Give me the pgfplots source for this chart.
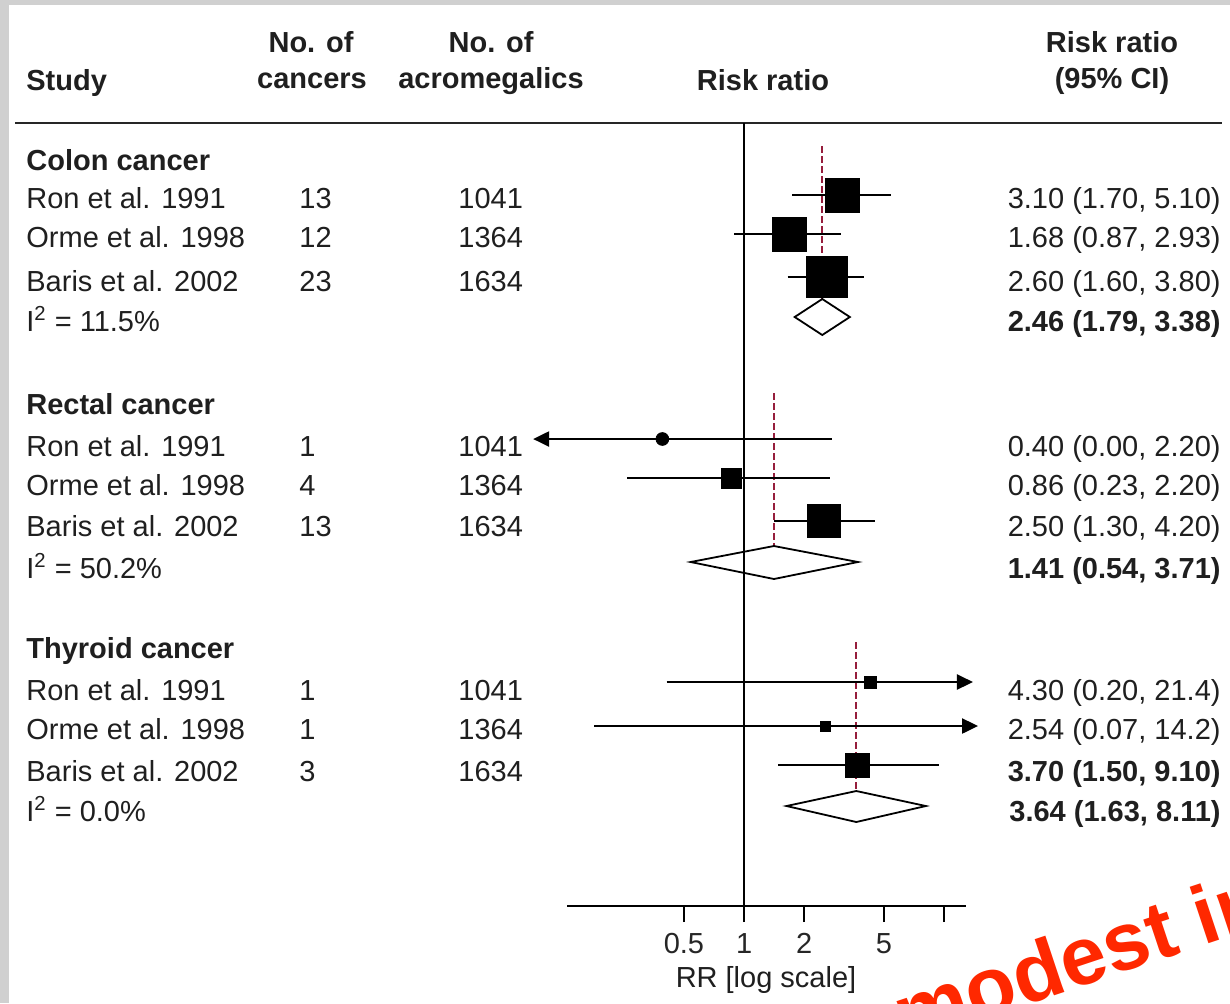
\documentclass[border=0pt]{standalone}
\usepackage{fontspec}
\setmainfont{Liberation Sans}
\usepackage{pgfplots}
\pgfplotsset{compat=1.18}
\usetikzlibrary{arrows.meta}
\definecolor{poolred}{RGB}{150,30,60}
\definecolor{wmred}{RGB}{255,40,0}
\definecolor{bordergray}{RGB}{208,208,208}
\newcommand\fs{\fontsize{14.5pt}{17pt}\selectfont}
\begin{document}
\begin{tikzpicture}
\begin{scope}[x=0.5pt,y=-0.5pt]
\useasboundingbox (0,0) rectangle (1230,1003);
\fill[white] (0,0) rectangle (1230,1003);
\fill[bordergray] (0,0) rectangle (1230,5);
\fill[bordergray] (0,0) rectangle (9,1003);
\draw[line width=1.3pt, black!85] (15,123) -- (1222,123);
\end{scope}
\begin{axis}[
  at={(283.5pt,-453pt)}, anchor=south west,
  scale only axis, width=199.5pt, height=391.5pt,
  xmode=log, log basis x=10, xmin=0.130, xmax=12.88, ymin=-906, ymax=-123,
  axis x line=bottom, axis y line=none,
  x axis line style={-, line width=1pt},
  xtick={0.5,1,2,5,10}, xticklabels={0.5,1,2,5,{}},
  xminorticks=false,
  xtick align=outside, major tick length=8pt,
  tick style={line width=0.9pt, black},
  xticklabel style={font=\fs, text=black!85, yshift=-2pt},
  /pgf/number format/assume math mode=true,
  clip=false,
]
% reference line at RR = 1
\draw[line width=1pt] (axis cs:1,-123) -- (axis cs:1,-906);
% pooled estimate dashed lines
\addplot[poolred, dash pattern=on 3.5pt off 1.5pt, line width=0.8pt] coordinates {(2.46,-146) (2.46,-299)};
\addplot[poolred, dash pattern=on 3.5pt off 1.5pt, line width=0.8pt] coordinates {(1.41,-393) (1.41,-546)};
\addplot[poolred, dash pattern=on 3.5pt off 1.5pt, line width=0.8pt] coordinates {(3.64,-642) (3.64,-791)};
% Colon cancer
\addplot[black, line width=1pt] coordinates {(1.74,-195) (5.40,-195)};
\addplot[only marks, mark=square*, mark size=8.5pt, black] coordinates {(3.10,-195)};
\addplot[black, line width=1pt] coordinates {(0.89,-234) (3.05,-234)};
\addplot[only marks, mark=square*, mark size=8.5pt, black] coordinates {(1.68,-234)};
\addplot[black, line width=1pt] coordinates {(1.65,-277) (4.00,-277)};
\addplot[only marks, mark=square*, mark size=10.25pt, black] coordinates {(2.60,-277)};
\addplot[black, line width=0.9pt, line join=miter] coordinates {(1.79,-317) (2.46,-299) (3.38,-317) (2.46,-335)} -- cycle;
% Rectal cancer
\addplot[black, line width=1.1pt, -{Triangle[length=8pt,width=7.5pt]}] coordinates {(2.75,-439) (0.088,-439)};
\addplot[only marks, mark=*, mark size=3.2pt, black] coordinates {(0.39,-439)};
\addplot[black, line width=0.8pt] coordinates {(0.26,-478) (2.68,-478)};
\addplot[only marks, mark=square*, mark size=5pt, black] coordinates {(0.86,-478)};
\addplot[black, line width=1pt] coordinates {(1.41,-521) (4.50,-521)};
\addplot[only marks, mark=square*, mark size=8.25pt, black] coordinates {(2.50,-521)};
\addplot[black, line width=0.9pt, line join=miter] coordinates {(0.54,-562) (1.41,-546) (3.71,-562) (1.41,-579)} -- cycle;
% Thyroid cancer
\addplot[black, line width=1.1pt, -{Triangle[length=8pt,width=7.5pt]}] coordinates {(0.41,-682) (13.96,-682)};
\addplot[only marks, mark=square*, mark size=3pt, black] coordinates {(4.30,-682)};
\addplot[black, line width=1.1pt, -{Triangle[length=8pt,width=7.5pt]}] coordinates {(0.178,-726) (14.8,-726)};
\addplot[only marks, mark=square*, mark size=2.5pt, black] coordinates {(2.54,-726)};
\addplot[black, line width=1pt] coordinates {(1.48,-765) (9.40,-765)};
\addplot[only marks, mark=square*, mark size=6pt, black] coordinates {(3.70,-765)};
\addplot[black, line width=0.9pt, line join=miter] coordinates {(1.63,-806) (3.64,-791) (8.11,-806) (3.64,-822)} -- cycle;
\end{axis}
\begin{scope}[x=0.5pt,y=-0.5pt, every node/.style={inner sep=0pt, font=\fs, text=black!88}]
% headers
\node[anchor=base west] at (26,90) {\bfseries Study};
\node[anchor=base] at (311,52) {\bfseries No. of};
\node[anchor=base] at (312,88) {\bfseries cancers};
\node[anchor=base] at (491,52) {\bfseries No. of};
\node[anchor=base] at (491,88) {\bfseries acromegalics};
\node[anchor=base] at (763,90) {\bfseries Risk ratio};
\node[anchor=base] at (1112,52) {\bfseries Risk ratio};
\node[anchor=base] at (1112,88) {\bfseries (95\% CI)};
% groups
\node[anchor=base west] at (26,170) {\bfseries Colon cancer};
\node[anchor=base west] at (26,414) {\bfseries Rectal cancer};
\node[anchor=base west] at (26,658) {\bfseries Thyroid cancer};
% rows
\newcommand\rowtext[5]{%
  \node[anchor=base west] at (26,#1) {#2};
  \node[anchor=base west] at (299,#1) {#3};
  \node[anchor=base west] at (458,#1) {#4};
  \node[anchor=base east] at (1221,#1) {#5};}
\rowtext{208}{Ron et al. 1991}{13}{1041}{3.10 (1.70, 5.10)}
\rowtext{247}{Orme et al. 1998}{12}{1364}{1.68 (0.87, 2.93)}
\rowtext{291}{Baris et al. 2002}{23}{1634}{2.60 (1.60, 3.80)}
\rowtext{331}{I\textsuperscript{2} = 11.5\%}{}{}{\bfseries 2.46 (1.79, 3.38)}
\rowtext{456}{Ron et al. 1991}{1}{1041}{0.40 (0.00, 2.20)}
\rowtext{495}{Orme et al. 1998}{4}{1364}{0.86 (0.23, 2.20)}
\rowtext{536}{Baris et al. 2002}{13}{1634}{2.50 (1.30, 4.20)}
\rowtext{578}{I\textsuperscript{2} = 50.2\%}{}{}{\bfseries 1.41 (0.54, 3.71)}
\rowtext{700}{Ron et al. 1991}{1}{1041}{4.30 (0.20, 21.4)}
\rowtext{739}{Orme et al. 1998}{1}{1364}{2.54 (0.07, 14.2)}
\rowtext{781}{Baris et al. 2002}{3}{1634}{\bfseries 3.70 (1.50, 9.10)}
\rowtext{821}{I\textsuperscript{2} = 0.0\%}{}{}{\bfseries 3.64 (1.63, 8.11)}
\node[anchor=base] at (766,987) {RR [log scale]};
\end{scope}
\begin{scope}[x=0.5pt,y=-0.5pt]
\clip (0,0) rectangle (1230,1003);
\node[anchor=base west, inner sep=0pt, rotate=18.4, text=wmred, font=\fontsize{41pt}{45pt}\selectfont\bfseries] at (905,1045) {modest in};
\end{scope}
\end{tikzpicture}
\end{document}
